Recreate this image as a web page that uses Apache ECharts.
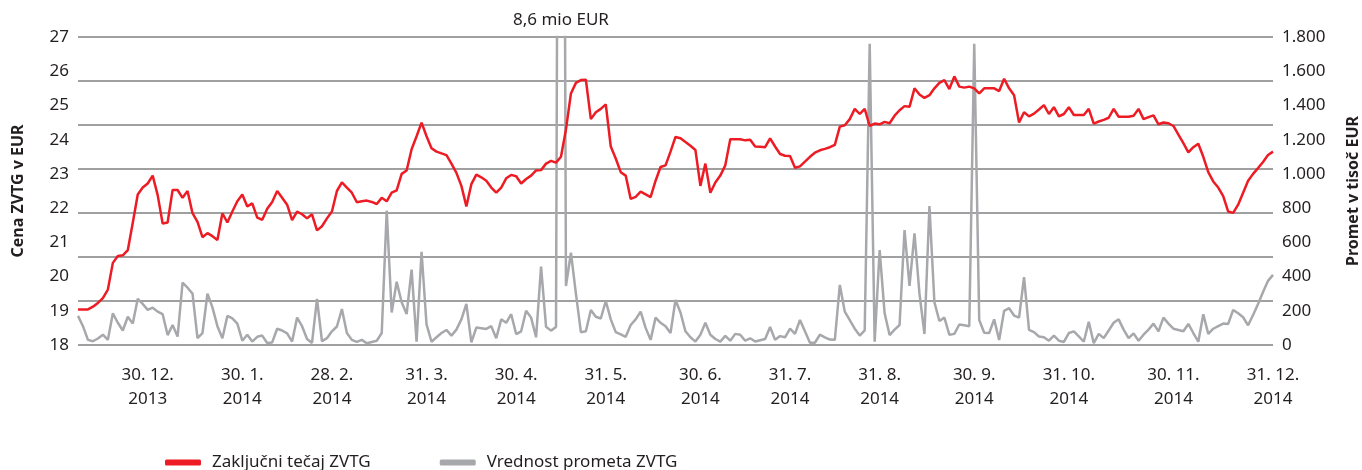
<!DOCTYPE html>
<html><head><meta charset="utf-8">
<script src="https://cdn.jsdelivr.net/npm/echarts@6/dist/echarts.min.js"></script>
<style>html,body{margin:0;padding:0;background:#fff}#c{width:1362px;height:470px}</style>
</head><body><div id="c"></div>
<script>
// X-axis tick labels and the trading-day index at which each one sits
const tickLabels = ['30. 12.\n2013','30. 1.\n2014','28. 2.\n2014','31. 3.\n2014','30. 4.\n2014','31. 5.\n2014','30. 6.\n2014','31. 7.\n2014','31. 8.\n2014','30. 9.\n2014','31. 10.\n2014','30. 11.\n2014','31. 12.\n2014'];
const tickIndex = [14,33,51,70,88,106,125,143,161,180,199,220,240];

// Closing price ZVTG (EUR)
const price = [
19.04,19.04,19.04,19.12,19.23,19.37,19.62,20.4,20.6,20.62,
20.77,21.57,22.4,22.6,22.72,22.95,22.38,21.55,21.58,22.53,
22.53,22.3,22.5,21.85,21.6,21.15,21.27,21.18,21.07,21.85,
21.58,21.9,22.2,22.4,22.05,22.14,21.72,21.66,21.98,22.18,
22.5,22.3,22.1,21.65,21.9,21.82,21.7,21.82,21.35,21.47,
21.7,21.9,22.5,22.75,22.6,22.45,22.17,22.2,22.22,22.18,
22.12,22.3,22.2,22.45,22.52,23.0,23.1,23.72,24.1,24.5,
24.1,23.75,23.65,23.6,23.55,23.3,23.03,22.65,22.05,22.7,
22.98,22.9,22.8,22.6,22.45,22.6,22.87,22.97,22.93,22.72,
22.85,22.95,23.1,23.11,23.3,23.38,23.33,23.5,24.3,25.35,
25.66,25.74,25.75,24.6,24.8,24.9,25.03,23.8,23.45,23.05,
22.95,22.27,22.33,22.48,22.4,22.32,22.8,23.2,23.25,23.65,
24.08,24.04,23.93,23.82,23.7,22.65,23.3,22.45,22.75,22.95,
23.25,24.01,24.01,24.01,23.98,24.0,23.8,23.79,23.78,24.04,
23.8,23.58,23.53,23.52,23.18,23.22,23.36,23.5,23.62,23.69,
23.73,23.78,23.85,24.38,24.42,24.6,24.9,24.75,24.9,24.4,
24.47,24.45,24.52,24.48,24.7,24.86,24.98,24.96,25.5,25.32,
25.22,25.3,25.5,25.66,25.74,25.48,25.85,25.55,25.52,25.55,
25.5,25.35,25.5,25.5,25.5,25.42,25.78,25.5,25.3,24.5,
24.8,24.68,24.76,24.88,25.01,24.75,24.95,24.68,24.75,24.95,
24.72,24.72,24.72,24.9,24.47,24.53,24.58,24.64,24.9,24.67,
24.67,24.67,24.7,24.9,24.6,24.66,24.71,24.45,24.5,24.48,
24.4,24.15,23.9,23.63,23.78,23.88,23.5,23.05,22.78,22.6,
22.35,21.9,21.86,22.1,22.45,22.8,23.0,23.17,23.35,23.55,
23.65
];

// Turnover ZVTG (thousand EUR)
const turnover = [
170,110,30,22,38,60,30,185,130,85,
165,125,270,240,205,218,195,180,58,117,
49,364,335,300,40,70,300,220,110,40,
170,155,125,25,60,20,48,55,12,15,
95,85,68,20,160,110,35,12,270,22,
40,80,108,210,70,30,18,30,10,18,
25,70,785,190,370,250,181,440,19,545,
120,19,45,70,88,55,90,150,240,15,
102,98,94,110,40,150,130,180,64,80,
200,160,45,458,107,84,105,8600,345,539,
300,75,80,205,165,155,257,150,75,62,
48,117,150,195,100,30,160,130,110,70,
263,190,80,45,20,60,130,60,35,20,
53,25,65,60,25,39,20,28,35,105,
30,52,45,95,65,146,80,13,13,60,
45,32,30,351,195,145,95,55,85,1760,
19,555,185,58,90,117,672,345,653,300,
64,812,250,140,160,60,65,120,115,110,
1760,146,72,70,150,29,200,215,172,160,
396,88,75,50,45,25,55,25,18,70,
80,50,19,136,10,65,40,85,130,150,
90,40,68,25,60,90,125,80,160,125,
95,88,80,123,70,19,180,65,95,110,
125,123,205,185,162,115,175,240,310,375,
410
];

const seriesNames = ['Zaključni tečaj ZVTG', 'Vrednost prometa ZVTG'];
const peakNote = '8,6 mio EUR';
const peakIndex = 97;

const categories = price.map((_, i) => {
  const k = tickIndex.indexOf(i);
  return k >= 0 ? tickLabels[k] : '';
});

const FONT = 'Noto Sans';
const TXT = '#231f20';
const fmtThousands = v => v >= 1000 ? Math.floor(v / 1000) + '.' + String(v % 1000).padStart(3, '0') : String(v);

const chart = echarts.init(document.getElementById('c'), null, { renderer: 'canvas' });
chart.setOption({
  animation: false,
  backgroundColor: '#fff',
  textStyle: { fontFamily: FONT, color: TXT },
  grid: { left: 78, right: 89, top: 37, bottom: 125, containLabel: false, outerBoundsMode: 'none' },
  legend: {
    left: 160, top: 449,
    itemWidth: 36, itemHeight: 6, itemGap: 69,
    icon: 'roundRect',
    textStyle: { fontFamily: FONT, fontSize: 17, color: TXT, padding: [0, 0, 0, 6] },
    data: [seriesNames[0], seriesNames[1]]
  },
  xAxis: {
    type: 'category',
    data: categories,
    boundaryGap: false,
    axisLine: { show: false },
    axisTick: { show: false },
    splitLine: { show: false },
    axisLabel: {
      interval: (i, v) => v !== '',
      fontFamily: FONT, fontSize: 17, color: TXT,
      lineHeight: 24, margin: 18
    }
  },
  yAxis: [
    {
      type: 'value', min: 18, max: 27, interval: 1, position: 'left',
      name: 'Cena ZVTG v EUR', nameLocation: 'middle', nameRotate: 90, nameGap: 52,
      nameTextStyle: { fontFamily: FONT, fontSize: 16, fontWeight: 'bold', color: TXT },
      axisLine: { show: false }, axisTick: { show: false }, splitLine: { show: false },
      axisLabel: { fontFamily: FONT, fontSize: 17, color: TXT, margin: 9 }
    },
    {
      type: 'value', min: 0, max: 1800, interval: 200, position: 'right',
      name: 'Promet v tisoč EUR', nameLocation: 'middle', nameRotate: 90, nameGap: 72,
      nameTextStyle: { fontFamily: FONT, fontSize: 16, fontWeight: 'bold', color: TXT },
      axisLine: { show: false }, axisTick: { show: false }, splitLine: { show: false },
      axisLabel: { fontFamily: FONT, fontSize: 17, color: TXT, margin: 9, formatter: fmtThousands }
    },
    {
      type: 'value', min: 0, max: 7, interval: 1, position: 'left',
      axisLine: { show: false }, axisTick: { show: false }, axisLabel: { show: false },
      splitLine: { show: true, lineStyle: { color: '#808080', width: 1.5 } }
    }
  ],
  series: [
    {
      name: seriesNames[1], type: 'line', yAxisIndex: 1, data: turnover,
      showSymbol: false, symbol: 'none', clip: true, z: 2,
      lineStyle: { color: '#a7a8ab', width: 2.5 },
      itemStyle: { color: '#a7a8ab' },
      markPoint: {
        symbol: 'circle', symbolSize: 0, silent: true,
        label: { show: true, position: 'top', distance: 8, formatter: peakNote,
                 fontFamily: FONT, fontSize: 17, color: TXT },
        data: [{ coord: [peakIndex, 1800] }]
      }
    },
    {
      name: seriesNames[0], type: 'line', yAxisIndex: 0, data: price,
      showSymbol: false, symbol: 'none', z: 3,
      lineStyle: { color: '#ed1c24', width: 2.5 },
      itemStyle: { color: '#ed1c24' }
    }
  ]
});
</script>
</body></html>
